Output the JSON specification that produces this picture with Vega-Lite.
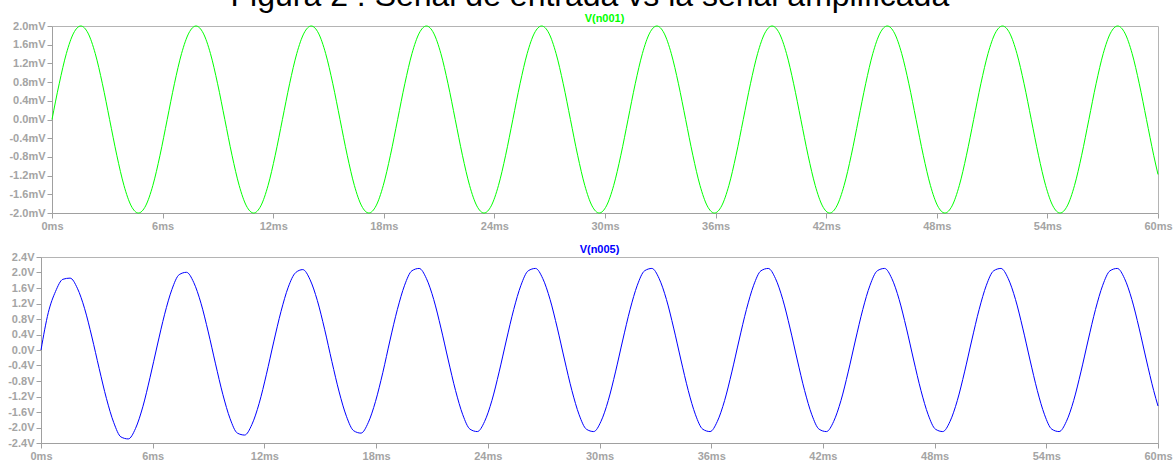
{
  "$schema": "https://vega.github.io/schema/vega-lite/v6.json",
  "padding": {"left": 7, "top": -20, "right": 0, "bottom": 0},
  "background": "white",
  "title": {"text": "Figura 2 : Señal de entrada vs la señal amplificada", "fontSize": 32, "font": "Liberation Sans", "fontWeight": "normal", "color": "black", "anchor": "middle", "offset": 0},
  "spacing": 12,
  "datasets": {
    "a": [
      {"t":0,"v":0},{"t":0.391,"v":0.765},{"t":0.781,"v":1.414},{"t":1.172,"v":1.848},{"t":1.563,"v":2},{"t":1.953,"v":1.848},{"t":2.344,"v":1.414},{"t":2.734,"v":0.765},{"t":3.125,"v":0},{"t":3.516,"v":-0.765},{"t":3.906,"v":-1.414},{"t":4.297,"v":-1.848},{"t":4.688,"v":-2},{"t":5.078,"v":-1.848},{"t":5.469,"v":-1.414},{"t":5.859,"v":-0.765},
      {"t":6.25,"v":0},{"t":6.641,"v":0.765},{"t":7.031,"v":1.414},{"t":7.422,"v":1.848},{"t":7.813,"v":2},{"t":8.203,"v":1.848},{"t":8.594,"v":1.414},{"t":8.984,"v":0.765},{"t":9.375,"v":0},{"t":9.766,"v":-0.765},{"t":10.156,"v":-1.414},{"t":10.547,"v":-1.848},{"t":10.938,"v":-2},{"t":11.328,"v":-1.848},{"t":11.719,"v":-1.414},{"t":12.109,"v":-0.765},
      {"t":12.5,"v":0},{"t":12.891,"v":0.765},{"t":13.281,"v":1.414},{"t":13.672,"v":1.848},{"t":14.063,"v":2},{"t":14.453,"v":1.848},{"t":14.844,"v":1.414},{"t":15.234,"v":0.765},{"t":15.625,"v":0},{"t":16.016,"v":-0.765},{"t":16.406,"v":-1.414},{"t":16.797,"v":-1.848},{"t":17.188,"v":-2},{"t":17.578,"v":-1.848},{"t":17.969,"v":-1.414},{"t":18.359,"v":-0.765},
      {"t":18.75,"v":0},{"t":19.141,"v":0.765},{"t":19.531,"v":1.414},{"t":19.922,"v":1.848},{"t":20.313,"v":2},{"t":20.703,"v":1.848},{"t":21.094,"v":1.414},{"t":21.484,"v":0.765},{"t":21.875,"v":0},{"t":22.266,"v":-0.765},{"t":22.656,"v":-1.414},{"t":23.047,"v":-1.848},{"t":23.438,"v":-2},{"t":23.828,"v":-1.848},{"t":24.219,"v":-1.414},{"t":24.609,"v":-0.765},
      {"t":25,"v":0},{"t":25.391,"v":0.765},{"t":25.781,"v":1.414},{"t":26.172,"v":1.848},{"t":26.563,"v":2},{"t":26.953,"v":1.848},{"t":27.344,"v":1.414},{"t":27.734,"v":0.765},{"t":28.125,"v":0},{"t":28.516,"v":-0.765},{"t":28.906,"v":-1.414},{"t":29.297,"v":-1.848},{"t":29.688,"v":-2},{"t":30.078,"v":-1.848},{"t":30.469,"v":-1.414},{"t":30.859,"v":-0.765},
      {"t":31.25,"v":0},{"t":31.641,"v":0.765},{"t":32.031,"v":1.414},{"t":32.422,"v":1.848},{"t":32.813,"v":2},{"t":33.203,"v":1.848},{"t":33.594,"v":1.414},{"t":33.984,"v":0.765},{"t":34.375,"v":0},{"t":34.766,"v":-0.765},{"t":35.156,"v":-1.414},{"t":35.547,"v":-1.848},{"t":35.938,"v":-2},{"t":36.328,"v":-1.848},{"t":36.719,"v":-1.414},{"t":37.109,"v":-0.765},
      {"t":37.5,"v":0},{"t":37.891,"v":0.765},{"t":38.281,"v":1.414},{"t":38.672,"v":1.848},{"t":39.063,"v":2},{"t":39.453,"v":1.848},{"t":39.844,"v":1.414},{"t":40.234,"v":0.765},{"t":40.625,"v":0},{"t":41.016,"v":-0.765},{"t":41.406,"v":-1.414},{"t":41.797,"v":-1.848},{"t":42.188,"v":-2},{"t":42.578,"v":-1.848},{"t":42.969,"v":-1.414},{"t":43.359,"v":-0.765},
      {"t":43.75,"v":0},{"t":44.141,"v":0.765},{"t":44.531,"v":1.414},{"t":44.922,"v":1.848},{"t":45.313,"v":2},{"t":45.703,"v":1.848},{"t":46.094,"v":1.414},{"t":46.484,"v":0.765},{"t":46.875,"v":0},{"t":47.266,"v":-0.765},{"t":47.656,"v":-1.414},{"t":48.047,"v":-1.848},{"t":48.438,"v":-2},{"t":48.828,"v":-1.848},{"t":49.219,"v":-1.414},{"t":49.609,"v":-0.765},
      {"t":50,"v":0},{"t":50.391,"v":0.765},{"t":50.781,"v":1.414},{"t":51.172,"v":1.848},{"t":51.563,"v":2},{"t":51.953,"v":1.848},{"t":52.344,"v":1.414},{"t":52.734,"v":0.765},{"t":53.125,"v":0},{"t":53.516,"v":-0.765},{"t":53.906,"v":-1.414},{"t":54.297,"v":-1.848},{"t":54.688,"v":-2},{"t":55.078,"v":-1.848},{"t":55.469,"v":-1.414},{"t":55.859,"v":-0.765},
      {"t":56.25,"v":0},{"t":56.641,"v":0.765},{"t":57.031,"v":1.414},{"t":57.422,"v":1.848},{"t":57.813,"v":2},{"t":58.203,"v":1.848},{"t":58.594,"v":1.414},{"t":58.984,"v":0.765},{"t":59.375,"v":0},{"t":59.766,"v":-0.765},{"t":60,"v":-1.176}
    ],
    "b": [
      {"t":0,"v":0},{"t":0.391,"v":0.963},{"t":0.781,"v":1.511},{"t":1.172,"v":1.824},{"t":1.563,"v":1.855},{"t":1.953,"v":1.594},{"t":2.344,"v":1.066},{"t":2.734,"v":0.336},{"t":3.125,"v":-0.478},{"t":3.516,"v":-1.253},{"t":3.906,"v":-1.871},{"t":4.297,"v":-2.244},{"t":4.688,"v":-2.295},{"t":5.078,"v":-2.024},{"t":5.469,"v":-1.466},{"t":5.859,"v":-0.706},
      {"t":6.25,"v":0.128},{"t":6.641,"v":0.923},{"t":7.031,"v":1.561},{"t":7.422,"v":1.944},{"t":7.813,"v":2.005},{"t":8.203,"v":1.744},{"t":8.594,"v":1.206},{"t":8.984,"v":0.466},{"t":9.375,"v":-0.358},{"t":9.766,"v":-1.143},{"t":10.156,"v":-1.771},{"t":10.547,"v":-2.144},{"t":10.938,"v":-2.195},{"t":11.328,"v":-1.924},{"t":11.719,"v":-1.376},{"t":12.109,"v":-0.626},
      {"t":12.5,"v":0.208},{"t":12.891,"v":0.993},{"t":13.281,"v":1.621},{"t":13.672,"v":1.994},{"t":14.063,"v":2.075},{"t":14.453,"v":1.814},{"t":14.844,"v":1.276},{"t":15.234,"v":0.536},{"t":15.625,"v":-0.298},{"t":16.016,"v":-1.083},{"t":16.406,"v":-1.711},{"t":16.797,"v":-2.084},{"t":17.188,"v":-2.145},{"t":17.578,"v":-1.874},{"t":17.969,"v":-1.326},{"t":18.359,"v":-0.586},
      {"t":18.75,"v":0.258},{"t":19.141,"v":1.043},{"t":19.531,"v":1.671},{"t":19.922,"v":2.044},{"t":20.313,"v":2.105},{"t":20.703,"v":1.844},{"t":21.094,"v":1.306},{"t":21.484,"v":0.566},{"t":21.875,"v":-0.258},{"t":22.266,"v":-1.043},{"t":22.656,"v":-1.671},{"t":23.047,"v":-2.044},{"t":23.438,"v":-2.105},{"t":23.828,"v":-1.844},{"t":24.219,"v":-1.306},{"t":24.609,"v":-0.566},
      {"t":25,"v":0.258},{"t":25.391,"v":1.043},{"t":25.781,"v":1.671},{"t":26.172,"v":2.044},{"t":26.563,"v":2.105},{"t":26.953,"v":1.844},{"t":27.344,"v":1.306},{"t":27.734,"v":0.566},{"t":28.125,"v":-0.258},{"t":28.516,"v":-1.043},{"t":28.906,"v":-1.671},{"t":29.297,"v":-2.044},{"t":29.688,"v":-2.105},{"t":30.078,"v":-1.844},{"t":30.469,"v":-1.306},{"t":30.859,"v":-0.566},
      {"t":31.25,"v":0.258},{"t":31.641,"v":1.043},{"t":32.031,"v":1.671},{"t":32.422,"v":2.044},{"t":32.813,"v":2.105},{"t":33.203,"v":1.844},{"t":33.594,"v":1.306},{"t":33.984,"v":0.566},{"t":34.375,"v":-0.258},{"t":34.766,"v":-1.043},{"t":35.156,"v":-1.671},{"t":35.547,"v":-2.044},{"t":35.938,"v":-2.105},{"t":36.328,"v":-1.844},{"t":36.719,"v":-1.306},{"t":37.109,"v":-0.566},
      {"t":37.5,"v":0.258},{"t":37.891,"v":1.043},{"t":38.281,"v":1.671},{"t":38.672,"v":2.044},{"t":39.063,"v":2.105},{"t":39.453,"v":1.844},{"t":39.844,"v":1.306},{"t":40.234,"v":0.566},{"t":40.625,"v":-0.258},{"t":41.016,"v":-1.043},{"t":41.406,"v":-1.671},{"t":41.797,"v":-2.044},{"t":42.188,"v":-2.105},{"t":42.578,"v":-1.844},{"t":42.969,"v":-1.306},{"t":43.359,"v":-0.566},
      {"t":43.75,"v":0.258},{"t":44.141,"v":1.043},{"t":44.531,"v":1.671},{"t":44.922,"v":2.044},{"t":45.313,"v":2.105},{"t":45.703,"v":1.844},{"t":46.094,"v":1.306},{"t":46.484,"v":0.566},{"t":46.875,"v":-0.258},{"t":47.266,"v":-1.043},{"t":47.656,"v":-1.671},{"t":48.047,"v":-2.044},{"t":48.438,"v":-2.105},{"t":48.828,"v":-1.844},{"t":49.219,"v":-1.306},{"t":49.609,"v":-0.566},
      {"t":50,"v":0.258},{"t":50.391,"v":1.043},{"t":50.781,"v":1.671},{"t":51.172,"v":2.044},{"t":51.563,"v":2.105},{"t":51.953,"v":1.844},{"t":52.344,"v":1.306},{"t":52.734,"v":0.566},{"t":53.125,"v":-0.258},{"t":53.516,"v":-1.043},{"t":53.906,"v":-1.671},{"t":54.297,"v":-2.044},{"t":54.688,"v":-2.105},{"t":55.078,"v":-1.844},{"t":55.469,"v":-1.306},{"t":55.859,"v":-0.566},
      {"t":56.25,"v":0.258},{"t":56.641,"v":1.043},{"t":57.031,"v":1.671},{"t":57.422,"v":2.044},{"t":57.813,"v":2.105},{"t":58.203,"v":1.844},{"t":58.594,"v":1.306},{"t":58.984,"v":0.566},{"t":59.375,"v":-0.258},{"t":59.766,"v":-1.043},{"t":60,"v":-1.446}
    ]
  },
  "vconcat": [
    {
      "data": {"name": "a"},
      "width": 1117,
      "height": 187,
      "view": {"stroke": null},
      "title": {"text": "V(n001)", "color": "#00ff00", "fontSize": 11, "fontWeight": "bold", "font": "Liberation Sans", "offset": 0, "dy": 4, "anchor": "middle", "dx": 5},
      "layer": [
        {
          "mark": {"type": "line", "color": "#00ff00", "strokeWidth": 1, "interpolate": "monotone"},
          "encoding": {
            "x": {"field": "t", "type": "quantitative", "scale": {"domain": [0, 60], "nice": false, "zero": false, "range": [11, 1117]},
                  "axis": {"values": [0, 6, 12, 18, 24, 30, 36, 42, 48, 54, 60], "labelExpr": "datum.value + 'ms'", "title": null}},
            "y": {"field": "v", "type": "quantitative", "scale": {"domain": [-2, 2], "nice": false},
                  "axis": {"offset": -11, "values": [-2, -1.6, -1.2, -0.8, -0.4, 0, 0.4, 0.8, 1.2, 1.6, 2], "labelExpr": "(datum.value < -0.01 ? '-' : '') + format(abs(datum.value), '.1f') + 'mV'", "title": null}}
          }
        },
        {
          "mark": {"type": "line", "opacity": 0},
          "encoding": {
            "x": {"field": "t", "type": "quantitative", "scale": {"domain": [0, 60], "nice": false, "zero": false, "range": [11, 1117]},
                  "axis": {"orient": "top", "labels": false, "ticks": false, "domainColor": "#b4b4b4", "title": null}},
            "y": {"field": "v", "type": "quantitative", "scale": {"domain": [-2, 2], "nice": false},
                  "axis": {"orient": "right", "labels": false, "ticks": false, "domainColor": "#b4b4b4", "title": null}}
          }
        }
      ],
      "resolve": {"axis": {"x": "independent", "y": "independent"}}
    },
    {
      "data": {"name": "b"},
      "width": 1117,
      "height": 186,
      "title": {"text": "V(n005)", "color": "#0000ff", "fontSize": 11, "fontWeight": "bold", "font": "Liberation Sans", "offset": 0, "dy": 4, "anchor": "middle"},
      "mark": {"type": "line", "color": "#0000ff", "strokeWidth": 1, "interpolate": "monotone"},
      "encoding": {
        "x": {"field": "t", "type": "quantitative", "scale": {"domain": [0, 60], "nice": false, "zero": false},
              "axis": {"values": [0, 6, 12, 18, 24, 30, 36, 42, 48, 54, 60], "labelExpr": "datum.value + 'ms'", "title": null}},
        "y": {"field": "v", "type": "quantitative", "scale": {"domain": [-2.4, 2.4], "nice": false},
              "axis": {"values": [-2.4, -2, -1.6, -1.2, -0.8, -0.4, 0, 0.4, 0.8, 1.2, 1.6, 2, 2.4], "labelExpr": "(datum.value < -0.01 ? '-' : '') + format(abs(datum.value), '.1f') + 'V'", "title": null}}
      }
    }
  ],
  "config": {
    "view": {"stroke": "#b4b4b4", "strokeWidth": 1},
    "axis": {
      "grid": false,
      "domainColor": "#a0a0a0",
      "tickColor": "#a0a0a0",
      "labelColor": "#a4a4a4",
      "labelFont": "Liberation Sans",
      "labelFontSize": 11,
      "labelFontWeight": "bold",
      "tickSize": 5,
      "labelPadding": 2,
      "labelFlush": false,
      "labelOverlap": false
    }
  }
}
